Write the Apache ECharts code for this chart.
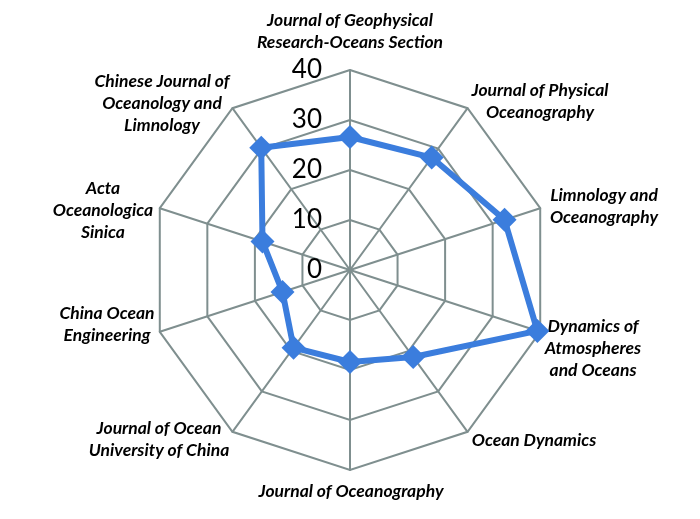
<!DOCTYPE html>
<html>
<head>
<meta charset="utf-8">
<script src="https://cdn.jsdelivr.net/npm/echarts@6/dist/echarts.min.js"></script>
<style>html,body{margin:0;padding:0;background:#fff;}#chart{width:700px;height:519px;}</style>
</head>
<body>
<div id="chart"></div>
<script>
// Categories listed clockwise starting from the top axis
const categories = [
  "Journal of Geophysical\nResearch-Oceans Section",
  "Journal of Physical\nOceanography",
  "Limnology and\nOceanography",
  "Dynamics of\nAtmospheres\nand Oceans",
  "Ocean Dynamics",
  "Journal of Oceanography",
  "Journal of Ocean\nUniversity of China",
  "China Ocean\nEngineering",
  "Acta\nOceanologica\nSinica",
  "Chinese Journal of\nOceanology and\nLimnology"
];
const values = [26.6, 27.8, 32.5, 39.4, 21.5, 18.4, 19.2, 14.2, 18.4, 30.2];
const tickLabels = [0, 10, 20, 30, 40];
const axisMax = 40;

// Label block centres (layout only), same order as categories
const labelAnchors = [
  [350, 31], [540, 101], [604, 206], [593, 348], [534, 440],
  [351, 491], [159, 439], [107, 324], [103, 210], [162, 103]
];

// ECharts radar places indicators counter-clockwise; reorder so the picture runs clockwise
const order = [0].concat(categories.map((_, i) => i).slice(1).reverse());
const indicators = order.map(i => ({ name: categories[i], max: axisMax, min: 0 }));
const radarValues = order.map(i => values[i]);

const gridColor = '#7f8f8f';
const chart = echarts.init(document.getElementById('chart'));
chart.setOption({
  animation: false,
  backgroundColor: '#ffffff',
  radar: {
    center: [350, 270],
    radius: 200,
    startAngle: 90,
    shape: 'polygon',
    splitNumber: tickLabels.length - 1,
    indicator: indicators,
    axisName: { show: false },
    axisLine: { lineStyle: { color: gridColor, width: 2 } },
    splitLine: { lineStyle: { color: gridColor, width: 2 } },
    splitArea: { show: false }
  },
  grid: { left: 350, top: 70, width: 10, height: 200 },
  xAxis: { type: 'value', show: false },
  yAxis: {
    type: 'value',
    min: tickLabels[0],
    max: tickLabels[tickLabels.length - 1],
    interval: tickLabels[1] - tickLabels[0],
    axisLine: { show: false },
    axisTick: { show: false },
    splitLine: { show: false },
    axisLabel: { margin: 28, fontSize: 26, color: '#000', fontFamily: 'Lato' }
  },
  graphic: categories.map((name, i) => ({
    type: 'text',
    x: labelAnchors[i][0],
    y: labelAnchors[i][1],
    silent: true,
    style: {
      text: name,
      fill: '#000',
      font: 'italic bold 17.5px Lato',
      lineHeight: 22,
      align: 'center',
      verticalAlign: 'middle'
    }
  })),
  series: [{
    type: 'radar',
    symbol: 'diamond',
    symbolSize: 24,
    lineStyle: { color: '#3b7ddd', width: 6 },
    itemStyle: { color: '#3b7ddd' },
    data: [{ value: radarValues }]
  }]
});
</script>
</body>
</html>
